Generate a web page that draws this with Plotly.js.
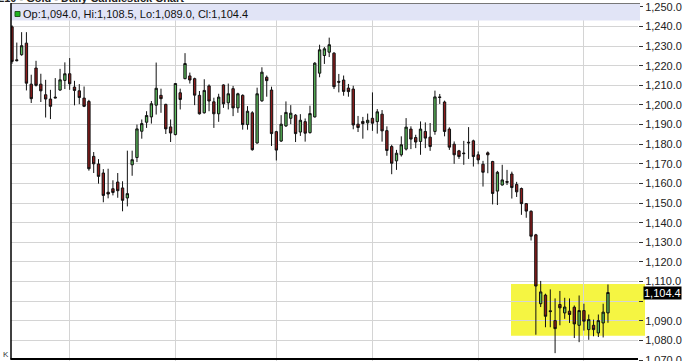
<!DOCTYPE html>
<html>
<head>
<meta charset="utf-8">
<script src="https://cdn.plot.ly/plotly-3.0.1.min.js"></script>
<style>html,body{margin:0;padding:0;background:#fff;}#chart{width:685px;height:361px;}</style>
</head>
<body>
<div id="chart"></div>
<script>
// ---- Data ----
const openP = [1239.8,1223.0,1225.6,1231.5,1210.6,1218.8,1210.6,1205.2,1203.0,1204.0,
1207.6,1212.5,1215.9,1209.1,1207.2,1203.5,1201.8,1173.8,1169.9,1165.3,
1155.5,1157.3,1160.7,1157.7,1152.6,1169.5,1173.2,1186.6,1191.2,1193.9,
1199.9,1204.9,1200.3,1188.8,1184.9,1206.2,1213.4,1214.8,1213.4,1204.9,
1196.0,1209.7,1201.6,1195.5,1210.2,1201.1,1208.3,1198.5,1204.9,1190.0,
1196.0,1180.6,1202.1,1214.1,1207.6,1186.4,1181.6,1189.3,1193.2,1194.8,
1186.2,1191.5,1185.9,1193.9,1216.2,1225.2,1226.9,1226.4,1212.0,1212.7,
1208.6,1208.1,1190.2,1191.6,1190.9,1193.2,1191.5,1195.3,1186.9,1178.8,
1171.5,1174.6,1177.5,1187.7,1183.4,1181.4,1186.5,1183.6,1186.5,1204.1,
1201.5,1187.7,1180.0,1176.6,1175.5,1181.0,1181.7,1174.6,1169.8,1175.6,
1171.2,1156.1,1159.2,1161.0,1164.8,1159.5,1157.4,1149.7,1145.8,1133.8,
1098.7,1103.1,1095.1,1090.1,1098.3,1094.0,1094.9,1096.9,1087.7,1095.2,
1085.5,1087.7,1083.8,1088.9,1094.0];
const highP = [1240.6,1231.8,1237.1,1237.1,1215.4,1222.5,1215.9,1212.8,1207.7,1213.7,
1218.4,1221.7,1223.9,1212.3,1210.6,1209.4,1202.6,1176.0,1172.4,1167.3,
1167.5,1161.6,1165.3,1161.1,1176.7,1176.7,1190.0,1192.6,1196.8,1202.0,
1221.6,1208.3,1200.6,1192.6,1211.2,1208.3,1226.4,1216.5,1213.9,1207.1,
1213.1,1210.5,1203.7,1205.7,1210.5,1210.9,1209.7,1206.2,1205.4,1199.4,
1196.8,1208.8,1219.2,1215.0,1209.3,1186.8,1194.8,1201.8,1199.9,1195.3,
1195.3,1193.1,1199.6,1221.8,1230.7,1229.5,1234.3,1226.9,1215.8,1215.0,
1210.7,1209.8,1194.4,1193.9,1195.6,1206.4,1197.9,1197.4,1189.1,1179.7,
1177.1,1184.0,1193.3,1189.1,1184.8,1191.6,1191.1,1190.8,1207.3,1205.6,
1202.2,1188.6,1181.4,1177.1,1181.7,1188.7,1182.3,1176.3,1171.5,1176.3,
1171.5,1166.4,1169.5,1166.9,1166.0,1160.8,1157.9,1150.0,1146.3,1134.3,
1110.3,1103.8,1106.0,1101.4,1105.2,1101.7,1101.4,1097.8,1102.9,1098.7,
1093.2,1090.6,1093.2,1098.7,1108.5];
const lowP = [1221.0,1222.2,1225.1,1207.4,1201.0,1209.4,1201.5,1193.6,1192.8,1203.4,
1207.2,1208.1,1207.7,1199.8,1200.4,1198.9,1166.5,1165.3,1159.9,1150.4,
1152.4,1153.9,1152.7,1145.8,1148.3,1163.9,1170.9,1182.8,1188.3,1190.5,
1195.1,1196.0,1185.2,1181.1,1184.5,1197.7,1213.1,1210.9,1199.9,1195.1,
1195.6,1196.8,1188.3,1191.4,1198.5,1197.7,1194.3,1196.0,1187.4,1187.4,
1176.7,1180.3,1201.6,1204.2,1179.1,1171.7,1181.1,1188.8,1190.2,1181.1,
1184.2,1181.3,1185.4,1193.6,1214.1,1220.9,1224.4,1208.1,1206.4,1204.7,
1204.2,1187.6,1186.2,1182.8,1187.1,1186.8,1185.4,1181.3,1174.1,1164.7,
1166.9,1173.7,1176.8,1177.5,1178.0,1174.6,1178.0,1176.6,1184.8,1200.5,
1184.0,1177.1,1170.0,1172.5,1169.5,1172.5,1168.6,1169.8,1158.4,1165.2,
1149.3,1149.0,1158.9,1159.2,1152.3,1153.1,1144.0,1142.5,1130.9,1082.9,
1097.0,1086.7,1086.7,1073.5,1087.7,1091.0,1088.9,1081.2,1079.1,1085.0,
1080.3,1082.1,1081.7,1081.5,1089.0];
const closeP = [1222.2,1222.6,1230.2,1211.1,1203.2,1210.0,1207.2,1203.0,1199.3,1203.6,
1212.8,1215.9,1210.8,1207.4,1203.8,1199.3,1167.5,1170.0,1163.6,1153.9,
1154.6,1155.4,1156.3,1151.4,1154.8,1172.1,1187.8,1190.5,1194.6,1200.6,
1208.5,1203.2,1187.8,1185.7,1210.9,1202.8,1221.1,1212.7,1205.0,1195.5,
1207.4,1202.0,1195.5,1204.0,1200.6,1205.7,1198.5,1205.7,1190.0,1196.8,
1177.2,1205.7,1216.7,1212.4,1185.4,1177.0,1190.2,1196.2,1195.8,1185.4,
1192.2,1185.6,1195.6,1221.3,1228.1,1228.6,1230.7,1209.3,1211.6,1206.9,
1206.8,1189.8,1188.5,1190.5,1192.2,1190.7,1196.5,1186.8,1176.8,1170.3,
1175.4,1179.7,1188.7,1182.6,1181.1,1187.7,1183.1,1178.8,1204.1,1203.8,
1186.5,1178.5,1174.6,1173.7,1175.2,1180.7,1173.7,1172.0,1165.7,1174.6,
1154.9,1165.7,1161.8,1160.6,1157.9,1155.7,1149.7,1145.9,1133.1,1107.7,
1104.7,1092.3,1094.7,1086.0,1096.6,1097.0,1093.2,1088.4,1095.2,1089.8,
1090.6,1085.5,1090.1,1094.4,1104.4];
// trading-day index of the first session of each month (vertical grid lines)
const monthStarts = [12, 34, 55, 75, 97, 119];
// price axis ticks
const priceTicks = [1070,1080,1090,1100,1110,1120,1130,1140,1150,1160,1170,1180,1190,1200,1210,1220,1230,1240,1250];
// highlighted consolidation zone (price band)
const zoneTop = 1108.8, zoneBottom = 1082.4;
const chartTitle = "GCZ10 - Gold - Daily Candlestick Chart";

// ---- Build ----
const days = openP.map((_, i) => i);
const n = closeP.length;
const fmt = v => v.toLocaleString('en-US', {minimumFractionDigits:1, maximumFractionDigits:1});
const lastClose = closeP[n-1];
const tickText = priceTicks.map(v => Math.abs(v - lastClose) < 5 ? "" : fmt(v));
const header = "Op:" + fmt(openP[n-1]) + ", Hi:" + fmt(highP[n-1]) + ", Lo:" + fmt(lowP[n-1]) + ", Cl:" + fmt(lastClose);

// pixel -> paper helpers for decoration
const L = 11, R = 47, T = 3, B = 0, W = 685, H = 361;
const pw = W - L - R, ph = H - T - B;
const px = p => (p - L) / pw;
const py = p => (H - B - p) / ph;

const trace = {
  type: 'candlestick',
  x: days, open: openP, high: highP, low: lowP, close: closeP,
  increasing: {line: {color: '#111', width: 1}, fillcolor: '#5cbb5c'},
  decreasing: {line: {color: '#111', width: 1}, fillcolor: '#8e1c1c'},
  whiskerwidth: 0,
  hoverinfo: 'skip',
  showlegend: false
};

const font = 'Liberation Sans, Arial, sans-serif';
const layout = {
  width: W, height: H,
  margin: {l: L, r: R, t: T, b: B, pad: 0},
  paper_bgcolor: '#ffffff',
  plot_bgcolor: 'rgba(0,0,0,0)',
  showlegend: false,
  font: {family: font, size: 11, color: '#222'},
  xaxis: {
    range: [-0.208, 130.25],
    tickvals: monthStarts, showticklabels: false, ticks: '',
    showgrid: true, gridcolor: '#d4d4d4', gridwidth: 1,
    zeroline: false, showline: false,
    rangeslider: {visible: false}, fixedrange: true
  },
  yaxis: {
    side: 'right',
    range: [1069.5, 1251.96],
    tickvals: priceTicks, ticktext: tickText,
    ticks: 'outside', ticklen: 4, tickwidth: 1, tickcolor: '#333',
    ticklabeloverflow: 'allow',
    tickfont: {family: font, size: 11, color: '#222'},
    showgrid: true, gridcolor: '#d4d4d4', gridwidth: 1,
    zeroline: false, showline: false, fixedrange: true
  },
  shapes: [
    {type: 'rect', xref: 'paper', yref: 'y', x0: px(511), x1: px(645), y0: zoneBottom, y1: zoneTop,
     fillcolor: '#f5f542', line: {width: 0}, layer: 'below'},
    {type: 'rect', xref: 'paper', yref: 'paper', x0: px(11), x1: px(640), y0: py(20.5), y1: py(3),
     fillcolor: '#e1e4f6', line: {width: 0}, layer: 'above'},
    {type: 'line', xref: 'paper', yref: 'paper', x0: px(11), x1: px(640), y0: py(3.5), y1: py(3.5),
     line: {color: '#777', width: 1}, layer: 'above'},
    {type: 'rect', xref: 'paper', yref: 'paper', x0: px(15), x1: px(20), y0: py(16.5), y1: py(11.5),
     fillcolor: '#1fb51f', line: {color: '#245a24', width: 1}, layer: 'above'},
    {type: 'line', xref: 'paper', yref: 'paper', x0: px(11), x1: px(11), y0: py(359.5), y1: py(3),
     line: {color: '#000', width: 1.5}, layer: 'above'},
    {type: 'line', xref: 'paper', yref: 'paper', x0: px(10.5), x1: px(638), y0: py(359), y1: py(359),
     line: {color: '#000', width: 2}, layer: 'above'}
  ],
  annotations: [
    {xref: 'paper', yref: 'paper', x: px(21), y: py(13.5), xanchor: 'left', yanchor: 'middle',
     text: header, showarrow: false, font: {family: font, size: 11, color: '#111'}},
    {xref: 'paper', yref: 'y', x: px(643), y: lastClose, xanchor: 'left', yanchor: 'middle',
     text: fmt(lastClose), showarrow: false, bgcolor: '#000', borderpad: 0,
     font: {family: font, size: 11, color: '#fff'}},
    {xref: 'paper', yref: 'paper', x: px(186), y: py(6), xanchor: 'right', yanchor: 'bottom',
     text: '<b>' + chartTitle + '</b>', showarrow: false, font: {family: font, size: 11, color: '#222'}},
    {xref: 'paper', yref: 'paper', x: px(1), y: py(361), xanchor: 'left', yanchor: 'bottom',
     text: 'K', showarrow: false, font: {family: font, size: 8, color: '#333'}}
  ]
};

Plotly.newPlot('chart', [trace], layout, {displayModeBar: false, staticPlot: true});
</script>
</body>
</html>
